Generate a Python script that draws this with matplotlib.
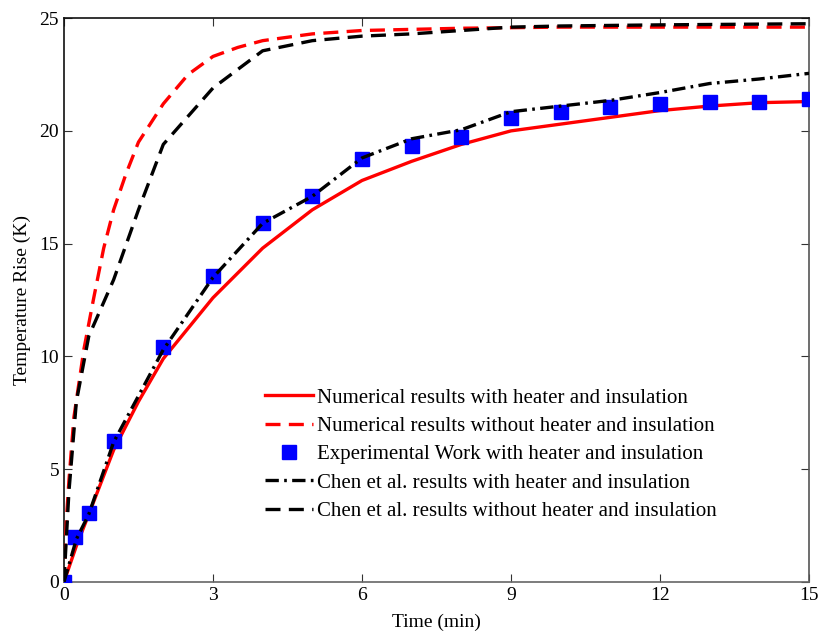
import matplotlib
matplotlib.use("Agg")
import matplotlib.pyplot as plt

plt.rcParams['font.family'] = ['Liberation Serif', 'DejaVu Serif']
plt.rcParams['mathtext.fontset'] = 'stix'

# Numerical results with heater and insulation
t_num_h = [0, 0.25, 0.5, 1, 1.5, 2, 3, 4, 5, 6, 7, 8, 9, 10, 11, 12, 13, 14, 15]
T_num_h = [0, 1.6, 3.0, 5.85, 8.0, 9.9, 12.6, 14.8, 16.5, 17.8, 18.65, 19.4, 20.0, 20.3, 20.6, 20.9, 21.1, 21.25, 21.3]

# Numerical results without heater and insulation
t_num_n = [0, 0.05, 0.1, 0.2, 0.4, 0.6, 0.8, 1.0, 1.25, 1.5, 2, 2.5, 3, 3.5, 4, 5, 6, 8, 10, 12, 15]
T_num_n = [0, 2.8, 4.5, 7.3, 10.3, 12.6, 14.8, 16.5, 18.1, 19.5, 21.2, 22.5, 23.3, 23.7, 24.0, 24.3, 24.45, 24.55, 24.6, 24.6, 24.6]

# Experimental work with heater and insulation
t_exp = [0, 0.22, 0.5, 1, 2, 3, 4, 5, 6, 7, 8, 9, 10, 11, 12, 13, 14, 15]
T_exp = [0, 2.0, 3.05, 6.25, 10.4, 13.55, 15.9, 17.1, 18.75, 19.33, 19.73, 20.55, 20.85, 21.05, 21.2, 21.3, 21.3, 21.4]

# Chen et al. results with heater and insulation
t_chen_h = [0, 0.25, 0.5, 1, 2, 3, 4, 5, 6, 7, 8, 9, 10, 11, 12, 13, 14, 15]
T_chen_h = [0, 1.9, 3.0, 6.2, 10.3, 13.5, 15.9, 17.1, 18.8, 19.65, 20.05, 20.85, 21.1, 21.35, 21.7, 22.1, 22.3, 22.55]

# Chen et al. results without heater and insulation
t_chen_n = [0, 0.1, 0.25, 0.5, 1, 1.5, 2, 3, 4, 5, 6, 7, 8, 9, 10, 12, 15]
T_chen_n = [0, 4.0, 8.0, 10.9, 13.4, 16.5, 19.4, 21.9, 23.55, 24.0, 24.2, 24.3, 24.45, 24.6, 24.65, 24.7, 24.75]

x_ticks = [0, 3, 6, 9, 12, 15]
y_ticks = [0, 5, 10, 15, 20, 25]

labels = [
    "Numerical results with heater and insulation",
    "Numerical results without heater and insulation",
    "Experimental Work with heater and insulation",
    "Chen et al. results with heater and insulation",
    "Chen et al. results without heater and insulation",
]

fig = plt.figure(figsize=(8.2, 6.35), dpi=100)
ax = fig.add_axes([0.078, 0.0835, 0.9086, 0.888])

lw = 2.4
ax.plot(t_num_h, T_num_h, color='#ff0000', lw=lw, label=labels[0], zorder=3)
ax.plot(t_num_n, T_num_n, color='#ff0000', lw=lw, dashes=(4.5, 2.5), label=labels[1], zorder=3)
ax.plot(t_exp, T_exp, ls='none', marker='s', ms=10, color='#0000ff', mec='#0000ff', label=labels[2], zorder=4)
ax.plot(t_chen_h, T_chen_h, color='black', lw=lw, dashes=(4, 1.6, 0.8, 1.6), label=labels[3], zorder=5)
ax.plot(t_chen_n, T_chen_n, color='black', lw=lw, dashes=(4.5, 2.5), label=labels[4], zorder=5)

ax.set_xlim(0, 15)
ax.set_ylim(0, 25)
ax.set_xticks(x_ticks)
ax.set_yticks(y_ticks)
ax.tick_params(direction='in', top=True, right=True, labelsize=14, length=6, width=0.8, colors='#333333', labelcolor='black')
ax.spines['top'].set_color('#111111')
ax.spines['left'].set_color('#111111')
ax.spines['bottom'].set_color('#666666')
ax.spines['right'].set_color('#555555')
for s in ax.spines.values():
    s.set_linewidth(1.2)

ax.set_xlabel("Time (min)", fontsize=14, labelpad=7)
ax.set_ylabel("Temperature Rise (K)", fontsize=14, labelpad=6)

leg = ax.legend(loc='upper left', bbox_to_anchor=(0.27, 0.344), frameon=False, fontsize=15,
                handlelength=2.3, handletextpad=0.2, labelspacing=0.42, borderpad=0, borderaxespad=0,
                numpoints=1)

fig.savefig("out.png", dpi=100)
